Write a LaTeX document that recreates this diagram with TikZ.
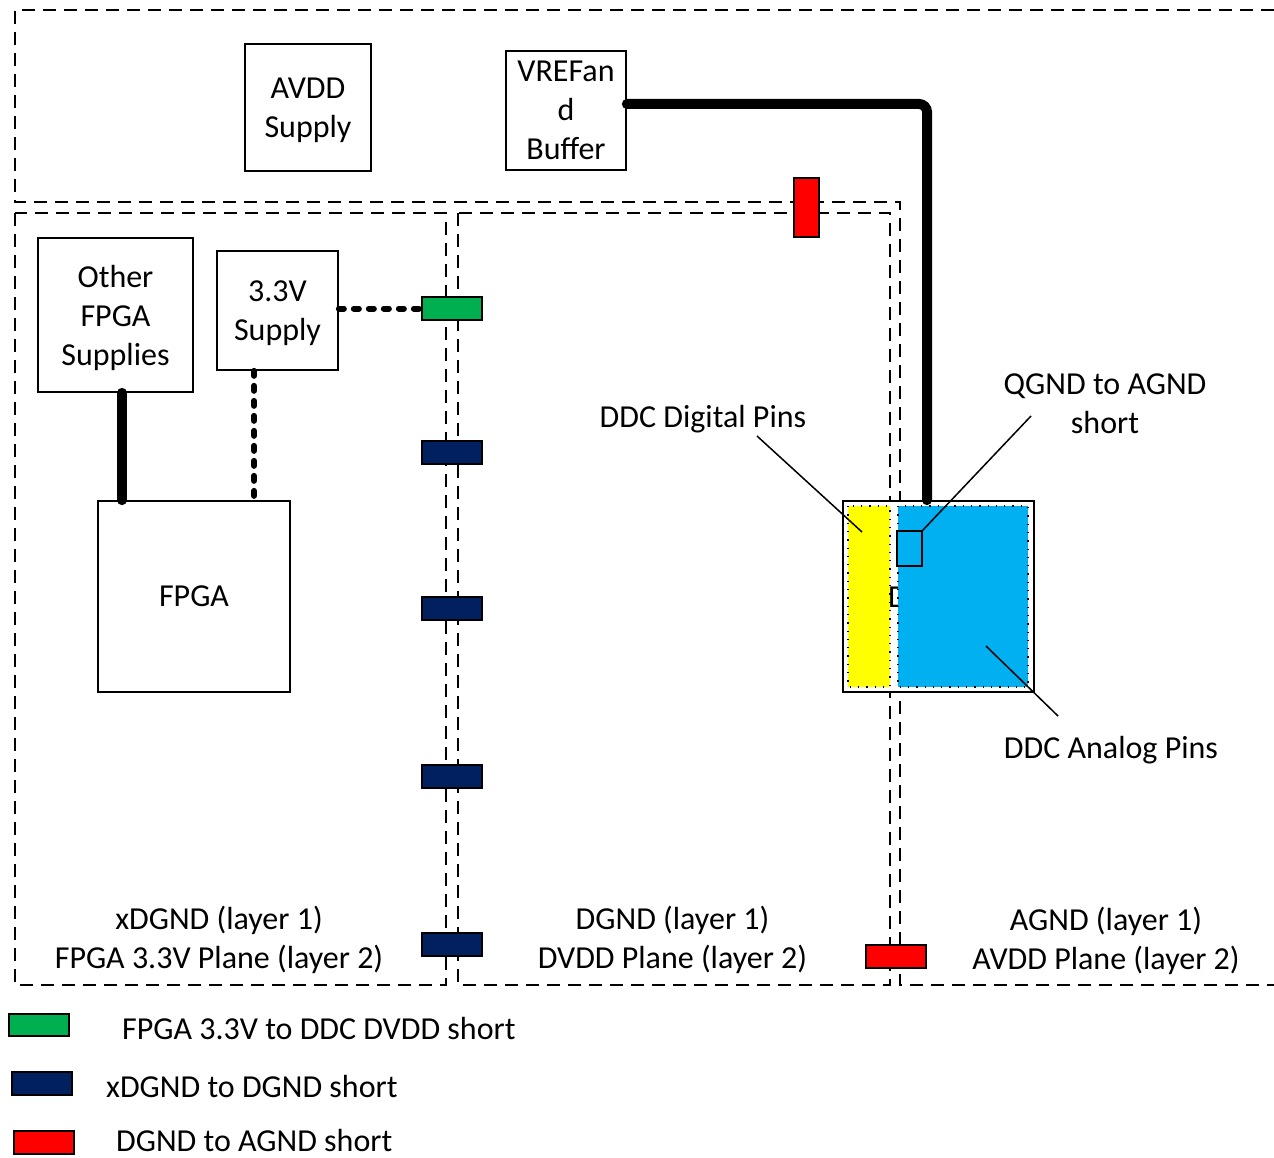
\documentclass[tikz,border=0pt]{standalone}
\usepackage{fontspec}
\setmainfont{Carlito}
\newcommand\fsz{\fontsize{32}{39}\selectfont}
\definecolor{sgreen}{HTML}{00B050}
\definecolor{snavy}{HTML}{002060}
\definecolor{sred}{HTML}{FF0000}
\definecolor{syellow}{HTML}{FFFF00}
\definecolor{sblue}{HTML}{00B0F0}
\tikzset{
  region/.style={draw, line width=1.9pt, dash pattern=on 13pt off 8pt},
  blk/.style={draw, line width=1.7pt, fill=white, inner sep=0pt, align=center, font=\fsz, text depth=0pt},
  shortbox/.style={draw, line width=1.6pt, inner sep=0pt, minimum width=60pt, minimum height=23pt},
  thickwire/.style={line width=10pt, line cap=round},
  dotwire/.style={line width=6pt, line cap=round, dash pattern=on 5pt off 10pt},
  pointer/.style={line width=1.5pt},
  lbl/.style={align=center, font=\fsz, text depth=0pt, inner sep=0pt},
  pins/.style={draw, line width=1.3pt, dash pattern=on 1.3pt off 7pt}
}
\begin{document}
\begin{tikzpicture}[x=1pt,y=-1pt]
\useasboundingbox (0,0) rectangle (1274,1158);
% helper x positions
\coordinate (c122) at (122,0);
\coordinate (c254) at (254,0);
\coordinate (c927) at (927,0);
% regions
\draw[region] (1274,10) -- (15,10) -- (15,202) -- (900,202) -- (900,985) -- (1274,985);
\draw[region] (15,213) rectangle (446,985);
\draw[region] (458,213) rectangle (890,985);
% region labels
\node[lbl] (lx) at (219,937) {xDGND (layer 1)\\FPGA 3.3V Plane (layer 2)};
\node[lbl] (ld) at (672.5,937) {DGND (layer 1)\\DVDD Plane (layer 2)};
\node[lbl] (la) at (1106,938) {AGND (layer 1)\\AVDD Plane (layer 2)};
% DDC chip
\node[draw, line width=1.7pt, fill=white, inner sep=0pt, minimum width=191pt, minimum height=191pt] (ddc) at (938.5,596.5) {};
\node[font=\fsz, anchor=base west, inner sep=0pt] (ddctxt) at (888,607) {DDC};
\draw[pins, fill=syellow] (848,506) rectangle (890,687);
\draw[pins, fill=sblue] (898,506) rectangle (1028,687);
\node[draw, line width=1.6pt, fill=sblue, inner sep=0pt, minimum width=25pt, minimum height=35pt] (qbox) at (909.5,548.5) {};
% pointer labels
\node[lbl] (ldig) at (703,416) {DDC Digital Pins};
\node[lbl] (lq) at (1105,403.5) {QGND to AGND\\short};
\node[lbl] (lan) at (1111,747) {DDC Analog Pins};
\coordinate (dig0) at (757,436);
\coordinate (dig1) at (862,532);
\coordinate (q0) at (1031,416);
\coordinate (an0) at (1058,716);
\coordinate (an1) at (986,646);
\draw[pointer] (dig0) -- (dig1);
\draw[pointer] (q0) -- (qbox.north east);
\draw[pointer] (an0) -- (an1);
% shorts
\node[shortbox, fill=sgreen] (g1) at (452,308.5) {};
\node[shortbox, fill=snavy] (n1) at (452,452.5) {};
\node[shortbox, fill=snavy] (n2) at (452,608.5) {};
\node[shortbox, fill=snavy] (n3) at (452,776.5) {};
\node[shortbox, fill=snavy] (n4) at (452,944.5) {};
\node[shortbox, fill=sred, minimum width=25pt, minimum height=59pt] (r1) at (806.5,207.5) {};
\node[shortbox, fill=sred] (r2) at (896,956.5) {};
% blocks
\node[blk, minimum width=126pt, minimum height=127pt] (avdd) at (308,107.5) {AVDD\\Supply};
\node[blk, minimum width=120pt, minimum height=119pt] (vref) at (566,110.5) {VREFan\\d\\Buffer};
\node[blk, minimum width=155pt, minimum height=154pt] (other) at (115.5,315) {Other\\FPGA\\Supplies};
\node[blk, minimum width=121pt, minimum height=119pt] (sup33) at (277.5,310.5) {3.3V\\Supply};
\node[blk, minimum width=192pt, minimum height=191pt] (fpga) at (194,596.5) {FPGA};
% wires
\draw[thickwire] (other.south -| c122) -- (fpga.north -| c122);
\draw[dotwire] (sup33.south -| c254) -- (fpga.north -| c254);
\draw[dotwire] (sup33.east |- g1.west) -- (g1.west);
\draw[thickwire, rounded corners=8pt] ([yshift=6.5pt]vref.east) -| (ddc.north -| c927);
% legend
\node[shortbox, line width=1.3pt, fill=sgreen, minimum width=60pt, minimum height=22pt] (lg) at (39,1025) {};
\node[shortbox, line width=1.3pt, fill=snavy, minimum width=60pt, minimum height=23pt] (ln) at (42,1083.5) {};
\node[shortbox, line width=1.3pt, fill=sred, minimum width=60pt, minimum height=23pt] (lr) at (44,1142.5) {};
\node[lbl, anchor=west] (lgt) at (122,1028) {FPGA 3.3V to DDC DVDD short};
\node[lbl, anchor=west] (lnt) at (106,1086) {xDGND to DGND short};
\node[lbl, anchor=west] (lrt) at (116,1140) {DGND to AGND short};
\end{tikzpicture}
\end{document}
